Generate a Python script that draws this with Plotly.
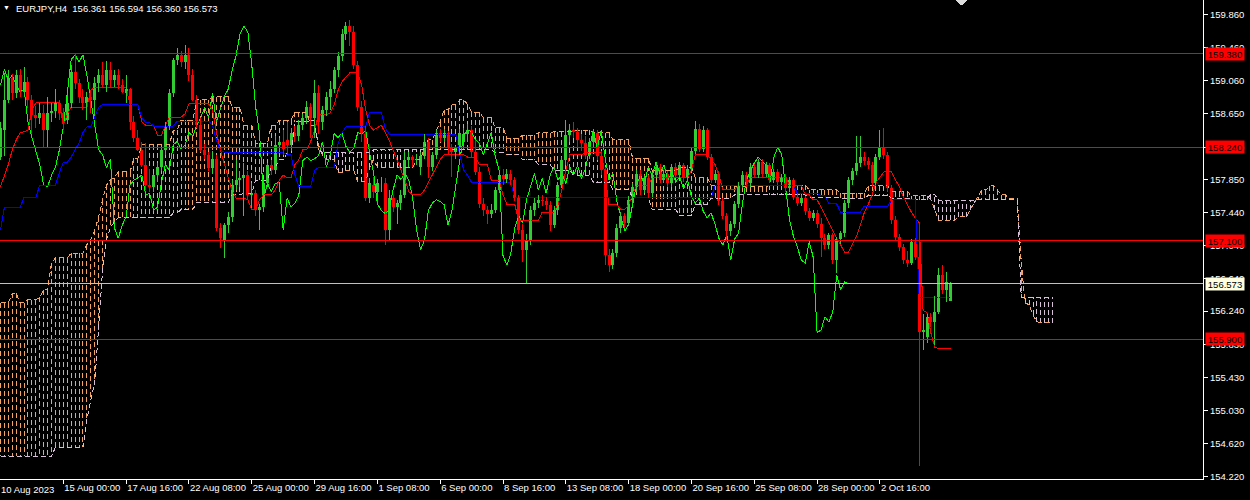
import plotly.graph_objects as go

# ---------------- data (EURJPY H4) ----------------
open_ = [
 158.12,158.45,158.82,159.09,158.90,159.12,158.91,159.04,158.82,158.64,
 158.60,158.66,158.45,158.66,158.68,158.78,158.66,158.57,158.78,159.16,
 159.03,158.86,158.78,158.86,158.82,159.03,159.12,159.00,159.19,159.06,
 159.12,159.00,158.90,158.95,158.55,158.36,158.21,158.03,157.78,157.76,
 157.90,158.00,158.21,158.49,158.90,159.31,159.37,159.28,159.37,159.12,
 158.82,158.51,158.21,158.15,157.99,158.10,157.26,157.10,157.29,157.39,
 157.78,157.84,157.87,157.90,157.66,157.68,157.47,157.51,157.81,158.03,
 157.96,158.27,158.31,158.33,158.27,158.42,158.38,158.51,158.60,158.73,
 158.60,158.90,158.55,158.70,158.86,158.95,159.18,159.36,159.62,159.72,
 159.65,159.25,158.73,158.40,157.62,157.78,157.70,157.80,157.81,157.23,
 157.62,157.51,157.56,157.66,158.08,158.12,158.08,158.00,158.14,158.31,
 158.00,158.15,158.41,158.36,158.41,158.25,158.18,158.23,158.30,158.40,
 158.45,158.18,157.94,157.55,157.47,157.43,157.48,157.72,157.90,157.85,
 157.92,157.84,157.62,157.23,156.99,157.11,157.47,157.56,157.60,157.58,
 157.54,157.29,157.47,157.78,158.08,158.39,158.45,158.43,158.33,158.29,
 158.15,158.30,158.42,158.14,157.96,156.92,156.80,156.95,157.26,157.40,
 157.32,157.60,157.76,157.92,157.72,157.86,157.68,157.90,158.00,157.84,
 157.92,157.80,158.00,157.90,158.02,157.86,157.98,158.20,158.46,158.22,
 158.45,158.12,157.84,157.92,157.58,157.40,157.22,157.30,157.55,157.78,
 157.90,157.80,158.00,157.90,158.06,157.92,158.02,157.84,157.94,157.82,
 157.88,157.74,157.84,157.64,157.56,157.62,157.46,157.38,157.44,157.30,
 157.13,157.05,157.17,156.86,157.12,157.19,157.56,157.84,157.95,158.05,
 158.12,158.07,158.02,157.81,158.12,158.24,158.15,157.74,157.35,157.15,
 157.02,156.86,156.83,157.09,156.90,155.98,155.93,156.17,156.11,156.23,
 156.68,156.50,156.361]
high = [
 158.55,159.15,159.19,159.14,159.18,159.20,159.22,159.10,158.88,158.75,
 158.78,158.76,158.86,158.78,158.95,158.82,158.72,158.90,159.25,159.38,
 159.08,158.95,158.92,158.92,159.10,159.20,159.28,159.30,159.28,159.18,
 159.20,159.08,159.12,158.97,158.62,158.45,158.30,158.29,157.98,157.92,
 158.05,158.25,158.55,158.95,159.33,159.45,159.42,159.49,159.45,159.20,
 158.88,158.60,158.28,158.18,158.20,158.15,157.32,157.32,157.45,157.84,
 158.09,157.95,158.05,157.95,157.80,157.72,157.55,157.85,158.05,158.08,
 158.38,158.35,158.45,158.55,158.48,158.50,158.58,158.65,158.80,158.78,
 159.06,159.00,158.75,158.92,159.05,159.22,159.40,159.68,159.77,159.80,
 159.72,159.30,158.80,158.50,157.86,157.88,157.85,157.88,157.86,157.72,
 157.66,157.60,157.72,158.20,158.18,158.15,158.16,158.18,158.40,158.35,
 158.18,158.45,158.46,158.46,158.44,158.28,158.26,158.47,158.48,158.52,
 158.50,158.33,158.00,157.62,157.52,157.55,157.76,157.95,157.98,157.98,
 157.96,157.88,157.66,157.30,157.18,157.52,157.62,157.66,157.66,157.64,
 157.58,157.52,157.82,158.12,158.58,158.52,158.55,158.48,158.40,158.38,
 158.35,158.46,158.45,158.20,158.00,157.00,157.00,157.30,157.45,157.44,
 157.65,157.80,157.96,157.96,157.90,157.90,157.94,158.05,158.04,157.96,
 157.95,158.04,158.05,158.06,158.05,158.02,158.24,158.56,158.52,158.50,
 158.48,158.16,157.96,157.95,157.62,157.44,157.34,157.58,157.82,157.95,
 157.94,158.05,158.04,158.10,158.10,158.06,158.05,157.98,157.97,157.92,
 157.92,157.88,157.86,157.68,157.66,157.65,157.50,157.48,157.47,157.38,
 157.18,157.20,157.20,157.15,157.22,157.60,157.88,157.99,158.38,158.38,
 158.18,158.12,158.06,158.16,158.45,158.48,158.18,157.78,157.40,157.18,
 157.06,156.98,157.12,157.13,157.13,156.21,156.20,156.22,156.42,156.77,
 156.80,156.72,156.594]
low = [
 158.08,158.14,158.78,158.82,158.84,158.86,158.88,158.72,158.40,158.48,
 158.52,158.25,158.23,158.55,158.60,158.58,158.45,158.52,158.72,158.95,
 158.78,158.70,158.58,158.66,158.62,158.92,158.96,158.92,158.98,158.98,
 158.95,158.90,158.78,158.45,158.30,158.20,158.00,157.72,157.70,157.70,
 157.82,157.95,158.15,158.45,158.85,159.25,159.22,159.20,159.05,158.80,
 158.48,158.18,158.10,157.95,157.92,157.22,157.01,156.89,157.20,157.33,
 157.72,157.76,157.40,157.60,157.50,157.40,157.23,157.45,157.75,157.90,
 157.92,158.18,158.15,158.15,158.20,158.30,158.32,158.45,158.52,158.35,
 158.36,158.40,158.45,158.62,158.70,158.90,159.10,159.30,159.55,159.48,
 159.20,158.68,158.30,157.58,157.56,157.62,157.55,157.70,157.05,157.10,
 157.45,157.30,157.48,157.62,158.00,158.00,158.02,157.90,158.10,157.87,
 157.95,158.10,158.30,158.30,158.15,157.88,158.10,158.15,158.22,158.30,
 158.12,157.90,157.50,157.40,157.30,157.38,157.44,157.68,157.78,157.80,
 157.78,157.58,157.18,156.84,156.58,157.05,157.40,157.50,157.52,157.48,
 157.22,157.25,157.42,157.74,158.02,158.30,158.36,158.25,158.20,158.10,
 158.10,158.25,158.08,157.90,156.80,156.72,156.75,156.90,157.20,157.25,
 157.28,157.55,157.70,157.66,157.68,157.62,157.64,157.86,157.80,157.80,
 157.76,157.76,157.86,157.86,157.82,157.82,157.94,158.16,158.18,158.18,
 158.08,157.80,157.80,157.54,157.36,157.12,157.16,157.26,157.50,157.74,
 157.76,157.76,157.86,157.86,157.88,157.88,157.80,157.80,157.78,157.78,
 157.70,157.70,157.60,157.52,157.52,157.42,157.34,157.34,157.26,156.90,
 157.00,157.00,156.82,156.70,157.06,157.15,157.50,157.78,157.90,158.00,
 158.02,157.98,157.76,157.78,158.08,158.10,157.70,157.30,157.10,156.98,
 156.82,156.78,156.80,156.86,154.35,155.77,155.85,156.05,155.83,156.20,
 156.45,156.35,156.360]
close = [
 158.48,158.82,159.09,158.90,159.12,158.91,159.04,158.82,158.64,158.60,
 158.66,158.45,158.66,158.68,158.78,158.66,158.57,158.78,159.16,159.03,
 158.86,158.78,158.86,158.82,159.03,159.12,159.00,159.19,159.06,159.12,
 159.00,158.92,158.95,158.55,158.36,158.21,158.03,157.78,157.76,157.90,
 158.00,158.21,158.49,158.90,159.31,159.37,159.28,159.37,159.12,158.82,
 158.51,158.21,158.15,157.99,158.10,157.26,157.13,157.29,157.39,157.78,
 157.84,157.87,157.90,157.66,157.68,157.47,157.51,157.81,158.03,157.96,
 158.27,158.31,158.22,158.27,158.42,158.38,158.51,158.60,158.73,158.60,
 158.90,158.55,158.70,158.86,158.95,159.18,159.36,159.62,159.72,159.65,
 159.25,158.73,158.40,157.62,157.80,157.70,157.80,157.81,157.23,157.62,
 157.51,157.56,157.66,158.08,158.12,158.08,158.10,158.14,158.31,158.00,
 158.15,158.41,158.36,158.41,158.25,158.18,158.23,158.42,158.40,158.45,
 158.18,157.94,157.55,157.47,157.43,157.48,157.72,157.90,157.85,157.92,
 157.84,157.62,157.23,156.99,157.11,157.47,157.56,157.60,157.58,157.54,
 157.29,157.47,157.78,158.08,158.39,158.45,158.43,158.33,158.29,158.15,
 158.30,158.42,158.14,157.96,156.92,156.80,156.95,157.26,157.40,157.32,
 157.60,157.76,157.92,157.72,157.86,157.68,157.90,158.00,157.84,157.92,
 157.80,158.00,157.90,158.02,157.86,157.98,158.20,158.46,158.22,158.45,
 158.12,157.84,157.92,157.58,157.40,157.22,157.30,157.55,157.78,157.90,
 157.80,158.00,157.90,158.06,157.92,158.02,157.84,157.94,157.82,157.88,
 157.74,157.84,157.64,157.56,157.62,157.46,157.38,157.44,157.30,157.13,
 157.05,157.17,156.86,157.12,157.19,157.56,157.84,157.95,158.05,158.12,
 158.07,158.02,157.81,158.12,158.24,158.15,157.74,157.35,157.15,157.02,
 156.86,156.83,157.09,156.90,155.98,156.01,156.17,156.11,156.23,156.68,
 156.50,156.60,156.573]

# Ichimoku lines as shown on the chart
tenkan = [
 157.76,157.90,158.03,158.21,158.33,158.42,158.43,158.45,158.70,158.78,
 158.79,158.79,158.79,158.79,158.79,158.79,158.51,158.64,158.73,158.73,
 158.73,158.73,158.73,158.94,158.97,158.97,158.97,158.97,158.97,158.97,
 158.97,158.97,158.97,158.76,158.76,158.76,158.55,158.51,158.51,158.51,
 158.39,158.39,158.51,158.61,158.61,158.61,158.61,158.65,158.77,158.77,
 158.77,158.77,158.77,158.77,158.70,158.42,158.21,158.03,157.87,157.72,
 157.62,157.62,157.62,157.60,157.48,157.48,157.60,157.66,157.66,157.66,
 157.72,157.84,157.90,157.87,157.87,158.03,158.09,158.21,158.21,158.31,
 158.45,158.64,158.64,158.64,158.66,158.76,158.94,159.04,159.10,159.15,
 159.15,159.15,159.00,158.70,158.51,158.45,158.48,158.51,158.42,158.33,
 158.21,158.09,157.96,157.84,157.70,157.66,157.66,157.66,157.72,157.81,
 157.90,157.99,158.09,158.15,158.15,158.15,158.15,158.15,158.15,158.12,
 158.12,158.12,158.03,158.03,158.03,157.84,157.84,157.84,157.66,157.54,
 157.54,157.54,157.35,157.35,157.35,157.35,157.35,157.35,157.45,157.45,
 157.45,157.45,157.54,157.72,157.96,158.15,158.15,158.15,158.15,158.18,
 158.18,158.18,158.18,158.18,157.90,157.54,157.54,157.54,157.48,157.48,
 157.54,157.66,157.78,157.78,157.78,157.78,157.87,157.87,157.87,157.87,
 157.87,157.87,157.87,157.87,157.87,157.87,157.96,158.15,158.15,158.15,
 158.15,158.09,158.03,157.90,157.72,157.72,157.72,157.72,157.78,157.78,
 157.78,157.87,157.87,157.87,157.87,157.87,157.87,157.87,157.87,157.87,
 157.87,157.78,157.78,157.78,157.78,157.66,157.66,157.60,157.60,157.51,
 157.41,157.33,157.23,157.13,157.05,156.96,156.96,157.05,157.15,157.29,
 157.44,157.54,157.66,157.81,157.88,157.94,157.94,157.94,157.84,157.76,
 157.63,157.54,157.45,157.38,157.32,156.25,156.22,155.97,155.80,155.78,
 155.78,155.78,155.78]
kijun = [
 157.23,157.51,157.51,157.51,157.51,157.51,157.63,157.63,157.63,157.63,
 157.78,157.78,157.78,157.78,157.78,157.93,158.06,158.06,158.12,158.21,
 158.29,158.42,158.49,158.49,158.61,158.73,158.76,158.76,158.76,158.76,
 158.76,158.76,158.76,158.76,158.76,158.76,158.60,158.54,158.54,158.50,
 158.50,158.50,158.50,158.50,158.50,158.56,158.56,158.56,158.56,158.56,
 158.56,158.56,158.56,158.56,158.51,158.33,158.21,158.18,158.18,158.18,
 158.18,158.18,158.18,158.18,158.18,158.18,158.18,158.18,158.18,158.18,
 158.18,158.18,158.18,158.15,158.15,157.90,157.76,157.76,157.76,157.76,
 157.96,157.99,157.99,157.99,157.99,157.99,158.29,158.42,158.49,158.49,
 158.49,158.49,158.49,158.49,158.67,158.67,158.67,158.67,158.48,158.40,
 158.40,158.40,158.40,158.40,158.40,158.40,158.40,158.40,158.40,158.40,
 158.40,158.40,158.40,158.40,158.40,158.40,158.40,158.15,157.96,157.90,
 157.81,157.81,157.81,157.81,157.81,157.81,157.81,157.81,157.81,157.81,
 157.81,157.63,157.63,157.63,157.63,157.63,157.63,157.63,157.63,157.63,
 157.63,157.63,157.63,157.63,157.63,157.63,157.63,157.63,157.63,157.63,
 157.63,157.63,157.63,157.63,157.63,157.63,157.63,157.63,157.63,157.63,
 157.63,157.63,157.63,157.63,157.63,157.63,157.63,157.63,157.63,157.63,
 157.63,157.63,157.63,157.63,157.63,157.63,157.63,157.63,157.63,157.63,
 157.63,157.63,157.77,157.77,157.77,157.77,157.77,157.77,157.77,157.77,
 157.77,157.77,157.77,157.77,157.77,157.77,157.77,157.77,157.77,157.77,
 157.77,157.77,157.77,157.68,157.68,157.68,157.68,157.68,157.68,157.65,
 157.65,157.55,157.55,157.55,157.45,157.45,157.45,157.45,157.45,157.45,
 157.52,157.52,157.52,157.52,157.52,157.52,157.52,157.60,157.60,157.60,
 157.60,157.60,157.60,157.60,156.41,156.41,156.41,156.41,156.41,156.41,
 156.41,156.41,156.41]
span_a = [
 156.34,156.34,156.34,156.46,156.46,156.34,156.34,156.38,156.38,156.38,
 156.41,156.50,156.50,156.83,156.89,156.89,156.89,156.89,156.95,156.95,
 156.95,156.95,157.05,157.11,157.23,157.39,157.60,157.78,157.84,157.87,
 157.94,157.94,157.94,157.94,158.11,158.11,158.27,158.27,158.27,158.27,
 158.27,158.27,158.27,158.27,158.45,158.45,158.57,158.57,158.57,158.57,
 158.82,158.82,158.82,158.82,158.86,158.86,158.86,158.86,158.86,158.73,
 158.73,158.73,158.51,158.51,158.51,158.29,158.29,158.29,158.29,158.51,
 158.51,158.57,158.57,158.57,158.57,158.67,158.67,158.67,158.67,158.51,
 158.51,158.27,158.15,158.09,158.09,158.09,157.93,157.93,157.96,157.96,
 157.96,157.82,157.82,157.82,157.99,158.09,158.00,158.00,158.00,158.00,
 158.00,157.99,157.99,157.99,157.99,157.99,158.09,158.09,158.25,158.33,
 158.33,158.45,158.55,158.70,158.70,158.76,158.76,158.82,158.82,158.76,
 158.67,158.67,158.67,158.60,158.60,158.60,158.48,158.48,158.48,158.35,
 158.35,158.35,158.35,158.39,158.39,158.39,158.39,158.42,158.42,158.42,
 158.42,158.43,158.43,158.43,158.43,158.43,158.45,158.45,158.45,158.45,
 158.45,158.42,158.42,158.42,158.42,158.42,158.33,158.33,158.33,158.33,
 158.33,158.11,158.11,158.11,158.11,158.11,157.96,157.96,157.96,157.96,
 157.96,157.96,157.96,157.99,157.99,157.99,157.99,157.87,157.87,157.87,
 157.87,157.78,157.78,157.78,157.78,157.78,157.78,157.76,157.76,157.76,
 157.76,157.76,157.76,157.76,157.76,157.76,157.78,157.78,157.78,157.78,
 157.78,157.78,157.78,157.78,157.78,157.78,157.72,157.72,157.72,157.72,
 157.72,157.72,157.72,157.72,157.68,157.68,157.68,157.68,157.68,157.68,
 157.68,157.77,157.77,157.77,157.77,157.77,157.77,157.70,157.70,157.70,
 157.70,157.70,157.65,157.65,157.65,157.65,157.65,157.60,157.48,157.35,
 157.35,157.35,157.35,157.35,157.39,157.39,157.39,157.48,157.56,157.63,
 157.72,157.72,157.77,157.77,157.72,157.66,157.66,157.61,157.61,157.61,
 156.84,156.34,156.32,156.19,156.11,156.10,156.10,156.10,156.10]
span_b = [
 154.47,154.47,154.47,154.47,154.47,154.47,154.47,154.47,154.47,154.47,
 154.47,154.47,154.47,154.47,154.58,154.58,154.58,154.58,154.58,154.58,
 154.58,154.58,154.91,155.16,155.36,156.01,156.74,157.11,157.26,157.33,
 157.38,157.38,157.38,157.38,157.38,157.38,157.38,157.38,157.38,157.38,
 157.38,157.38,157.38,157.38,157.44,157.44,157.48,157.48,157.48,157.48,
 157.57,157.57,157.57,157.57,157.57,157.57,157.57,157.57,157.57,157.66,
 157.66,157.66,157.68,157.68,157.68,157.84,157.84,157.84,157.84,158.00,
 158.00,158.09,158.09,158.17,158.17,158.55,158.55,158.55,158.55,158.57,
 158.57,158.21,158.18,158.18,158.18,158.18,158.18,158.18,158.18,158.18,
 158.18,158.18,158.18,158.18,158.18,158.21,158.21,158.21,158.21,158.21,
 158.21,158.21,158.21,158.21,158.21,158.21,158.21,158.21,158.21,158.21,
 158.21,158.21,158.21,158.21,158.21,158.21,158.21,158.21,158.21,158.21,
 158.21,158.21,158.21,158.21,158.21,158.21,158.18,158.18,158.18,158.15,
 158.15,158.15,158.15,158.09,158.09,158.09,158.09,158.03,158.03,158.03,
 158.03,157.96,157.96,157.96,157.96,157.96,157.90,157.90,157.90,157.90,
 157.90,157.81,157.81,157.81,157.81,157.81,157.72,157.72,157.72,157.72,
 157.72,157.63,157.63,157.63,157.63,157.63,157.48,157.48,157.48,157.48,
 157.48,157.48,157.48,157.41,157.41,157.41,157.41,157.54,157.54,157.54,
 157.54,157.62,157.62,157.62,157.62,157.62,157.62,157.66,157.66,157.66,
 157.66,157.66,157.66,157.66,157.66,157.66,157.66,157.66,157.66,157.66,
 157.66,157.66,157.66,157.66,157.66,157.66,157.63,157.63,157.63,157.63,
 157.63,157.63,157.63,157.63,157.62,157.62,157.62,157.62,157.62,157.62,
 157.62,157.65,157.65,157.65,157.65,157.65,157.65,157.62,157.62,157.62,
 157.62,157.62,157.60,157.60,157.60,157.60,157.60,157.68,157.66,157.59,
 157.59,157.59,157.59,157.59,157.59,157.59,157.59,157.59,157.59,157.60,
 157.60,157.60,157.60,157.60,157.60,157.60,157.60,157.60,157.60,157.60,
 156.41,156.41,156.41,156.41,156.41,156.41,156.41,156.41,156.41]
chikou_shift = 26

# horizontal levels drawn on the chart
red_levels = [159.380, 158.240, 157.100, 155.900]

# axes
price_ticks = [159.860, 159.460, 159.060, 158.650, 158.240, 157.850, 157.440,
               157.040, 156.640, 156.240, 155.830, 155.430, 155.030, 154.620, 154.220]
time_tick_bars = [16, 32, 48, 64, 80, 96, 112, 128, 144, 160, 176, 192, 208, 224]
time_tick_labels = ["15 Aug 00:00", "17 Aug 16:00", "22 Aug 08:00", "25 Aug 00:00",
                    "29 Aug 16:00", "1 Sep 08:00", "6 Sep 00:00", "8 Sep 16:00",
                    "13 Sep 08:00", "18 Sep 00:00", "20 Sep 16:00", "25 Sep 08:00",
                    "28 Sep 00:00", "2 Oct 16:00"]
first_date_label = "10 Aug 2023"
symbol_label = "EURJPY,H4"

# ---------------- styles ----------------
BG = "#000000"
FG = "#FFFFFF"
BULL = "#32CD32"
BEAR = "#FF0000"
TENKAN_C = "#FF0000"
KIJUN_C = "#0000FF"
CHIKOU_C = "#00FF00"
SPAN_A_C = "#F4A460"
SPAN_B_C = "#D8BFD8"
BID_C = "#C0C0C0"
FONT = "Liberation Sans"
FS = 9.5
X_RANGE = [-0.127, 306.3]
Y_RANGE = [154.191, 160.039]

fig = go.Figure()

# --- kumo hatch (vertical dotted strokes per bar) ---
hx_up, hy_up, hx_dn, hy_dn = [], [], [], []
for j in range(min(len(span_a), len(span_b))):
    a, b = span_a[j], span_b[j]
    if a >= b:
        hx_up += [j, j, None]; hy_up += [a, b, None]
    else:
        hx_dn += [j, j, None]; hy_dn += [a, b, None]
fig.add_trace(go.Scatter(x=hx_up, y=hy_up, mode="lines", hoverinfo="skip",
                         line=dict(color=SPAN_A_C, width=1, dash="5px,3px")))
fig.add_trace(go.Scatter(x=hx_dn, y=hy_dn, mode="lines", hoverinfo="skip",
                         line=dict(color=SPAN_B_C, width=1, dash="5px,3px")))
fig.add_trace(go.Scatter(x=list(range(len(span_a))), y=span_a, mode="lines", hoverinfo="skip",
                         line=dict(color=SPAN_A_C, width=1, dash="5px,3px")))
fig.add_trace(go.Scatter(x=list(range(len(span_b))), y=span_b, mode="lines", hoverinfo="skip",
                         line=dict(color=SPAN_B_C, width=1, dash="5px,3px")))

# --- chikou, tenkan, kijun ---
n = len(close)
fig.add_trace(go.Scatter(x=[i - chikou_shift for i in range(chikou_shift, n)],
                         y=close[chikou_shift:], mode="lines", hoverinfo="skip",
                         line=dict(color=CHIKOU_C, width=1)))
fig.add_trace(go.Scatter(x=list(range(len(tenkan))), y=tenkan, mode="lines", hoverinfo="skip",
                         line=dict(color=TENKAN_C, width=1)))
fig.add_trace(go.Scatter(x=list(range(len(kijun))), y=kijun, mode="lines", hoverinfo="skip",
                         line=dict(color=KIJUN_C, width=1)))

# --- candles ---
for bull, col in ((True, BULL), (False, BEAR)):
    ids = [i for i in range(n) if (close[i] >= open_[i]) == bull]
    wx, wy = [], []
    for i in ids:
        wx += [i, i, None]; wy += [low[i], high[i], None]
    fig.add_trace(go.Scatter(x=wx, y=wy, mode="lines", hoverinfo="skip",
                             line=dict(color=col, width=1)))
    fig.add_trace(go.Bar(x=ids,
                         y=[max(abs(close[i] - open_[i]), 0.006) for i in ids],
                         base=[min(close[i], open_[i]) for i in ids],
                         width=0.76, marker=dict(color=col, line=dict(width=0)),
                         hoverinfo="skip"))

# --- horizontal level lines and bid line (full width) ---
for lv in red_levels:
    fig.add_trace(go.Scatter(x=X_RANGE, y=[lv, lv], mode="lines", hoverinfo="skip",
                             line=dict(color=BEAR, width=1)))
fig.add_trace(go.Scatter(x=X_RANGE, y=[close[-1], close[-1]], mode="lines", hoverinfo="skip",
                         line=dict(color=BID_C, width=1)))

# chart shift marker
shapes = [dict(type="path", xref="paper", yref="paper",
               path="M 0.7939 1 L 0.8047 1 L 0.7993 0.9885 Z",
               fillcolor="#DDDDDD", line=dict(width=0))]

annotations = []
for lv in red_levels:
    annotations.append(dict(xref="paper", x=1, yref="y", y=lv, xanchor="left", yanchor="middle",
                            xshift=2, text=f"{lv:.3f}", showarrow=False, bgcolor=BEAR,
                            width=36, height=10, borderpad=1, align="center",
                            font=dict(family=FONT, size=FS, color="#000000")))
annotations.append(dict(xref="paper", x=1, yref="y", y=close[-1], xanchor="left", yanchor="middle",
                        xshift=2, text=f"{close[-1]:.3f}", showarrow=False, bgcolor="#FFFFE0",
                        width=36, height=10, borderpad=1, align="center",
                        font=dict(family=FONT, size=FS, color="#000000")))
header = (symbol_label + "\u00a0\u00a0" + f"{open_[-1]:.3f} {high[-1]:.3f} {low[-1]:.3f} {close[-1]:.3f}")
annotations.append(dict(xref="paper", yref="paper", x=0, y=1, xanchor="left", yanchor="top",
                        xshift=14, yshift=-1, text=header, showarrow=False,
                        font=dict(family=FONT, size=FS, color=FG)))
annotations.append(dict(xref="paper", yref="paper", x=0, y=1, xanchor="left", yanchor="top",
                        xshift=1, yshift=-2, text="\u25BC", showarrow=False,
                        font=dict(family=FONT, size=7, color=FG)))
annotations.append(dict(xref="paper", yref="paper", x=0, y=0, xanchor="left", yanchor="top",
                        xshift=-1, yshift=-3, text=first_date_label, showarrow=False,
                        font=dict(family=FONT, size=FS, color=FG)))

fig.update_layout(
    width=1250, height=500,
    margin=dict(l=0, r=47, t=0, b=21, autoexpand=False),
    paper_bgcolor=BG, plot_bgcolor=BG,
    showlegend=False, barmode="overlay", bargap=0,
    shapes=shapes, annotations=annotations,
    xaxis=dict(range=X_RANGE, showgrid=False, zeroline=False, automargin=False,
               showline=True, linecolor=FG, linewidth=1,
               ticks="outside", ticklen=4, tickcolor=FG, tickwidth=1, tickangle=0,
               tickmode="array", tickvals=time_tick_bars, ticktext=time_tick_labels,
               ticklabelposition="outside right",
               tickfont=dict(family=FONT, size=FS, color=FG), fixedrange=True),
    yaxis=dict(range=Y_RANGE, side="right", showgrid=False, zeroline=False,
               automargin=False,
               showline=True, linecolor=FG, linewidth=1,
               ticks="outside", ticklen=4, tickcolor=FG, tickwidth=1,
               tickmode="array", tickvals=price_ticks,
               ticktext=[f"{t:.3f}" for t in price_ticks],
               tickfont=dict(family=FONT, size=FS, color=FG), fixedrange=True),
)

page_js = """
document.body.style.margin = '0';
document.body.style.background = '#000000';
var st = document.createElement('style');
st.innerHTML = '.scatterlayer path, .shapelayer path, .barlayer path, .xlines-above, .ylines-above, .xtick, .ytick { shape-rendering: crispEdges !important; }';
document.head.appendChild(st);
"""

fig.write_html("out.html", post_script=page_js,
               config={"displayModeBar": False, "staticPlot": True})
